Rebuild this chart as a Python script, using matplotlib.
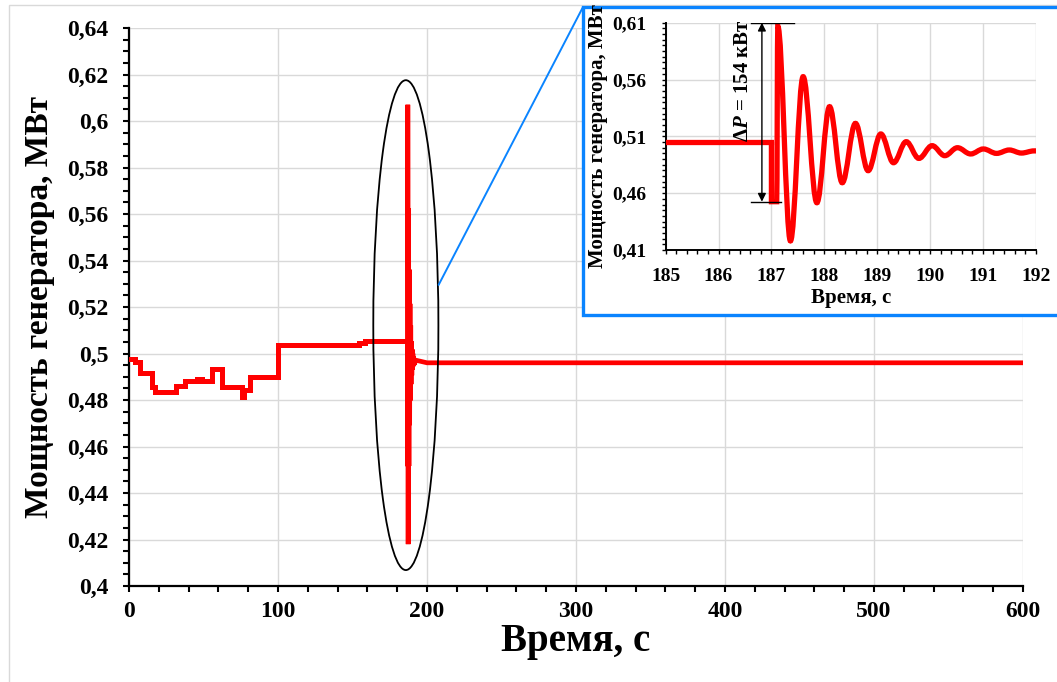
import numpy as np
import matplotlib
matplotlib.use('Agg')
from matplotlib import pyplot as plt
from matplotlib.path import Path
from matplotlib.patches import PathPatch, Ellipse, Rectangle, ConnectionPatch
from matplotlib.ticker import MultipleLocator, FixedLocator, FixedFormatter

plt.rcParams['font.family'] = ['Liberation Serif', 'DejaVu Serif']
plt.rcParams['font.weight'] = 'bold'
plt.rcParams['mathtext.fontset'] = 'custom'
plt.rcParams['mathtext.rm'] = 'Liberation Serif:bold'
plt.rcParams['mathtext.it'] = 'Liberation Serif:italic:bold'

# power before the disturbance (step-wise), s / MW
t_steps = [0, 4.0, 7.4, 15.7, 17.5, 31.6, 37.6, 45.5, 48.8, 56.0, 62.3,
           75.7, 77.5, 81.0, 100.3, 154.1, 158.6, 187.0]
p_steps = [0.4975, 0.4965, 0.4917, 0.4857, 0.4836, 0.4860, 0.4883, 0.4889,
           0.4880, 0.4932, 0.4855, 0.4815, 0.4843, 0.4900, 0.5037, 0.5044,
           0.5053, 0.5053]

# short notch at 187 s
t_notch = [187.0, 187.0, 187.1]
p_notch = [0.5053, 0.4525, 0.4525]

# peaks / troughs of the swing
t_ext = [187.12, 187.36, 187.60, 187.86, 188.10, 188.34, 188.59, 188.83,
         189.07, 189.31, 189.55, 189.79, 190.04, 190.28, 190.52, 190.77,
         191.01, 191.26, 191.50, 191.73, 191.97]
p_ext = [0.607, 0.418, 0.5625, 0.4516, 0.5361, 0.4692, 0.5214, 0.4798,
         0.5121, 0.4868, 0.5053, 0.4906, 0.5018, 0.4930, 0.5000, 0.4945,
         0.4989, 0.4950, 0.4980, 0.4953, 0.4972]

# settled level
t_tail = [200.0, 600.0]
p_tail = [0.4960, 0.4960]

main_yticks = [0.40, 0.42, 0.44, 0.46, 0.48, 0.50, 0.52, 0.54, 0.56, 0.58, 0.60, 0.62, 0.64]
main_ylabels = ['0,4', '0,42', '0,44', '0,46', '0,48', '0,5', '0,52', '0,54',
                '0,56', '0,58', '0,6', '0,62', '0,64']
main_xticks = [0, 100, 200, 300, 400, 500, 600]
main_xlabels = ['0', '100', '200', '300', '400', '500', '600']

ins_yticks = [0.41, 0.46, 0.51, 0.56, 0.61]
ins_ylabels = ['0,41', '0,46', '0,51', '0,56', '0,61']
ins_xticks = [185, 186, 187, 188, 189, 190, 191, 192]
ins_xlabels = ['185', '186', '187', '188', '189', '190', '191', '192']

RED = '#ff0000'
BLUE = '#0a84ff'
GRID = '#d9d9d9'


def swing_path():
    # notch as straight lines, swing as smooth curves with flat tops
    verts = [(t_steps[-1], p_steps[-1])]
    codes = [Path.MOVETO]
    for t, p in zip(t_notch, p_notch):
        verts.append((t, p))
        codes.append(Path.LINETO)
    k = 0.364
    t0, p0 = t_notch[-1], p_notch[-1]
    for t1, p1 in zip(t_ext, p_ext):
        dt = t1 - t0
        verts += [(t0 + k * dt, p0), (t1 - k * dt, p1), (t1, p1)]
        codes += [Path.CURVE4] * 3
        t0, p0 = t1, p1
    for t1, p1 in zip(t_tail, p_tail):
        verts.append((t1, p1))
        codes.append(Path.LINETO)
    return Path(verts, codes)


def style_axes(ax, lw_spine):
    for s in ['top', 'right']:
        ax.spines[s].set_visible(False)
    for s in ['left', 'bottom']:
        ax.spines[s].set_linewidth(lw_spine)
        ax.spines[s].set_color('black')
    ax.grid(True, which='major', color=GRID, lw=1.0)
    ax.set_axisbelow(True)


fig = plt.figure(figsize=(10.57, 6.82), dpi=100)

# outer chart-area border
fig.add_artist(Rectangle((9 / 1057, -0.01), 1.0, 1 - 5 / 682 + 0.01,
                         transform=fig.transFigure, fill=False,
                         ec=GRID, lw=1.0, zorder=-1))

ax = fig.add_axes([129 / 1057, 96 / 682, 894 / 1057, 558 / 682])
style_axes(ax, 1.6)
ax.step(t_steps, p_steps, where='post', color=RED, lw=3.6, solid_joinstyle='miter', zorder=3)
ax.add_patch(PathPatch(swing_path(), fill=False, ec=RED, lw=3.4, zorder=3))
ax.add_patch(Ellipse((185.8, 0.5122), 43.7, 0.2107, fill=False, ec='black', lw=1.3, zorder=4))
ax.set_xlim(0, 600)
ax.set_ylim(0.4, 0.64)
ax.xaxis.set_major_locator(FixedLocator(main_xticks))
ax.xaxis.set_major_formatter(FixedFormatter(main_xlabels))
ax.yaxis.set_major_locator(FixedLocator(main_yticks))
ax.yaxis.set_major_formatter(FixedFormatter(main_ylabels))
ax.xaxis.set_minor_locator(MultipleLocator(20))
ax.yaxis.set_minor_locator(MultipleLocator(0.005))
ax.tick_params(which='both', direction='out', length=4, width=1.5, labelsize=17)
ax.tick_params(axis='y', which='both', pad=11)
ax.tick_params(axis='x', which='both', pad=7)
ax.set_xlabel('Время, с', fontsize=28, fontweight='bold')
ax.set_ylabel('Мощность генератора, МВт', fontsize=24, fontweight='bold')
ax.xaxis.set_label_coords(0.5, -0.066)
ax.xaxis.label.set_va('top')
ax.yaxis.set_label_coords(-0.083, 0.5)

# inset frame
fig.add_artist(Rectangle((583 / 1057, 1 - 315 / 682), 0.5, (315 - 7) / 682,
                         transform=fig.transFigure, fc='white', ec=BLUE,
                         lw=2.4, zorder=1))
con = ConnectionPatch(xyA=(207.8, 0.5295), coordsA=ax.transData,
                      xyB=(583 / 1057, 1 - 7 / 682), coordsB=fig.transFigure,
                      color=BLUE, lw=1.4, zorder=0.5)
fig.add_artist(con)

ins = fig.add_axes([665.7 / 1057, 432 / 682, 370 / 1057, 227.3 / 682], zorder=2)
style_axes(ins, 1.4)
ins.add_patch(PathPatch(swing_path(), fill=False, ec=RED, lw=3.8, zorder=3))
ins.plot([t_steps[-2], t_steps[-1]], [p_steps[-2], p_steps[-1]], color=RED, lw=3.8, zorder=3)
ins.set_xlim(185, 192)
ins.set_ylim(0.41, 0.61)
ins.xaxis.set_major_locator(FixedLocator(ins_xticks))
ins.xaxis.set_major_formatter(FixedFormatter(ins_xlabels))
ins.yaxis.set_major_locator(FixedLocator(ins_yticks))
ins.yaxis.set_major_formatter(FixedFormatter(ins_ylabels))
ins.xaxis.set_minor_locator(MultipleLocator(0.2))
ins.yaxis.set_minor_locator(MultipleLocator(0.005))
ins.tick_params(which='both', direction='out', length=3, width=1.0, labelsize=14)
ins.tick_params(axis='y', which='both', pad=11)
ins.tick_params(axis='x', which='both', pad=10)
ins.set_xlabel('Время, с', fontsize=15, fontweight='bold')
ins.set_ylabel('Мощность генератора, МВт', fontsize=15, fontweight='bold')
ins.xaxis.set_label_coords(0.5, -0.167)
ins.xaxis.label.set_va('top')
ins.yaxis.set_label_coords(-0.156, 0.5)

# delta P annotation
ins.plot([186.61, 187.43], [0.61, 0.61], color='black', lw=1.0, zorder=4)
ins.plot([186.61, 187.19], [0.4525, 0.4525], color='black', lw=1.0, zorder=4)
ins.annotate('', xy=(186.82, 0.61), xytext=(186.82, 0.4525),
             arrowprops=dict(arrowstyle='<|-|>', color='black', lw=1.0,
                             shrinkA=0, shrinkB=0, mutation_scale=12), zorder=4)
ins.text(186.47, 0.559, r'$\mathit{\Delta P}$ = 154 кВт', rotation=90,
         ha='center', va='center', fontsize=15, fontweight='bold', zorder=4)

fig.savefig('out.png', dpi=100)
